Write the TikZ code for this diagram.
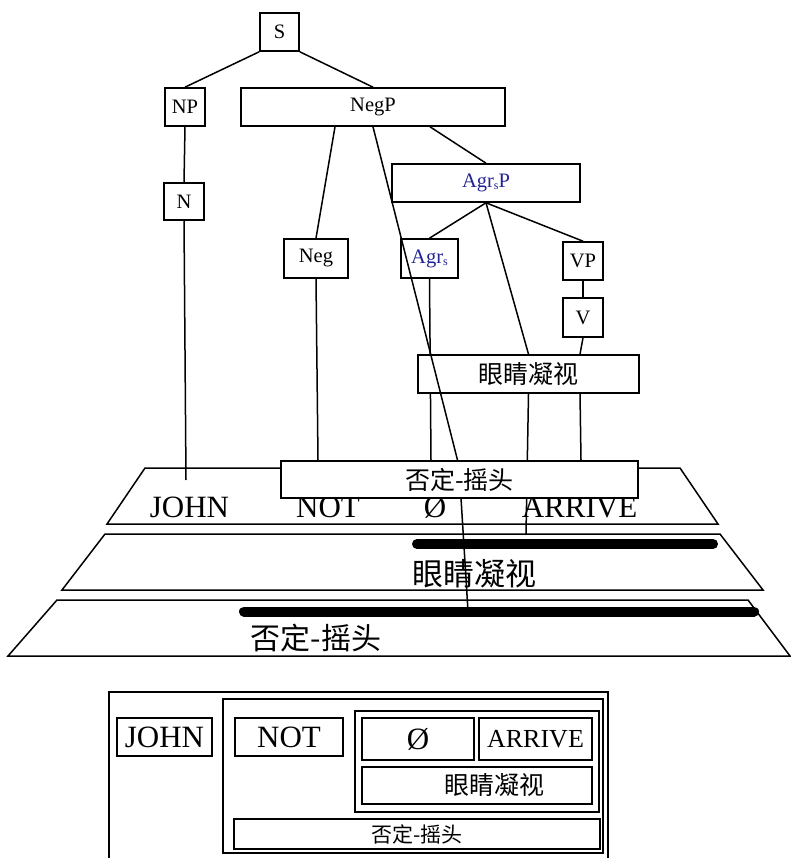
\documentclass[tikz,border=0pt]{standalone}
\usepackage{fontspec}
\setmainfont{Liberation Serif}
\newfontfamily\cjk{Noto Sans CJK SC}
\usetikzlibrary{calc}
\definecolor{agrblue}{RGB}{35,35,150}
\pgfdeclarelayer{back}
\pgfdeclarelayer{front}
\pgfsetlayers{back,main,front}
\begin{document}
\begin{tikzpicture}[x=1pt,y=-1pt,
  tbox/.style={draw, fill=white, line width=1.6pt, inner sep=0pt, font=\fontsize{20.5}{20.5}\selectfont},
  conn/.style={line width=1.5pt},
  layerpath/.style={line width=1.5pt},
  thickbar/.style={line width=10pt, line cap=round},
  big/.style={font=\fontsize{31}{31}\selectfont, inner sep=0pt},
  bbox/.style={draw, line width=1.7pt, inner sep=0pt}]
\useasboundingbox (0,0) rectangle (790,858);

% ---------- tree nodes ----------
\node[tbox, minimum width=39pt, minimum height=38pt] (S) at (279.5,32) {S};
\node[tbox, minimum width=40pt, minimum height=38pt] (NP) at (185,107) {NP};
\node[tbox, minimum width=264pt, minimum height=38pt] (NegP) at (373,107) {NegP};
\node[tbox, minimum width=40pt, minimum height=37pt] (N) at (184,201.5) {N};
\node[tbox, minimum width=188pt, minimum height=38pt, text=agrblue] (AgrsP) at (486,183) {Agr\raisebox{-2pt}{\fontsize{12}{12}\selectfont s}P};
\node[tbox, minimum width=64pt, minimum height=39pt] (Neg) at (316,258.5) {Neg};
\node[tbox, minimum width=57pt, minimum height=39pt, text=agrblue] (Agrs) at (429.5,258.5) {Agr\raisebox{-2pt}{\fontsize{12}{12}\selectfont s}};
\node[tbox, minimum width=40pt, minimum height=38pt] (VP) at (583,261) {VP};
\node[tbox, minimum width=40pt, minimum height=39pt] (V) at (583,317.5) {V};
\node[tbox, minimum width=221pt, minimum height=38pt, font=\cjk\fontsize{25}{25}\selectfont] (Eye) at (528.5,374) {眼睛凝视};
\begin{pgfonlayer}{front}
\node[tbox, minimum width=357pt, minimum height=37pt, font=\cjk\fontsize{25}{25}\selectfont] (NS) at (459.5,479.5) {否定-摇头};
\end{pgfonlayer}

\coordinate (johnend) at (186,480);
\coordinate (l2hit) at (526,534);
\coordinate (bend) at (459,466);
\coordinate (l3hit) at (468,611);

% ---------- layers ----------
\begin{pgfonlayer}{back}
\draw[layerpath] (145,468) -- (680,468) -- (718,524) -- (107,524) -- cycle;
\draw[layerpath] (105,534) -- (720,534) -- (763,590) -- (62,590) -- cycle;
\draw[layerpath] (57,600) -- (748,600) -- (790,656) -- (8,656) -- cycle;
\node[big, anchor=base] (tJ) at (189.5,517) {JOHN};
\node[big, anchor=base] (tN) at (328,517) {NOT};
\node[big, anchor=base] (tO) at (435,517) {Ø};
\node[big, anchor=base] (tA) at (579.5,517) {ARRIVE};
\node[inner sep=0pt, font=\cjk\fontsize{31}{31}\selectfont] (tE) at (474.5,573.5) {眼睛凝视};
\node[inner sep=0pt, font=\cjk\fontsize{30}{30}\selectfont] (tS) at (316,638.5) {否定-摇头};
\draw[thickbar] (417,544) -- (713,544);
\draw[thickbar] (244,611.5) -- (754,611.5);

% ---------- connectors ----------
\draw[conn] (S.south west) -- (NP.north);
\draw[conn] (S.south east) -- (NegP.north);
\draw[conn] (NP.south) -- (N.north);
\draw[conn] (N.south) -- (johnend);
\draw[conn] ([xshift=-38pt]NegP.south) -- (Neg.north);
\draw[conn] ([xshift=57pt]NegP.south) -- (AgrsP.north);
\draw[conn] (Neg.south) -- ([xshift=-141.5pt]NS.north);
\draw[conn] (AgrsP.south) -- (Agrs.north);
\draw[conn] (AgrsP.south) -- (VP.north);
\draw[conn] (AgrsP.south) -- (Eye.north);
\draw[conn] (Agrs.south) -- ([xshift=-28.5pt]NS.north);
\draw[conn] (VP.south) -- (V.north);
\draw[conn] (V.south) -- ([xshift=51.5pt]Eye.north);
\draw[conn] ([xshift=51.5pt]Eye.south) -- ([xshift=121.5pt]NS.north);
\draw[conn] (Eye.south) -- (l2hit);
\end{pgfonlayer}

\draw[conn] (NegP.south) -- (bend) -- (l3hit);

% ---------- bottom box diagram ----------
\draw[line width=1.7pt] (109,860) -- (109,692) -- (608,692) -- (608,860);
\node[bbox, minimum width=380pt, minimum height=154pt] (C2) at (413,776) {};
\node[bbox, minimum width=244pt, minimum height=101pt] (C3) at (477,761.5) {};
\node[bbox, minimum width=95pt, minimum height=38pt, font=\fontsize{31}{31}\selectfont] (bJ) at (164.5,737) {JOHN};
\node[bbox, minimum width=108pt, minimum height=38pt, font=\fontsize{31}{31}\selectfont] (bN) at (289,737) {NOT};
\node[bbox, minimum width=112pt, minimum height=42pt, font=\fontsize{31}{31}\selectfont] (bO) at (418,739) {Ø};
\node[bbox, minimum width=113pt, minimum height=42pt, font=\fontsize{26}{26}\selectfont] (bA) at (535.5,739) {ARRIVE};
\node[bbox, minimum width=230pt, minimum height=37pt, font=\cjk\fontsize{25}{25}\selectfont] (bE) at (477,785.5) {\hspace*{34pt}眼睛凝视};
\node[bbox, minimum width=366pt, minimum height=30pt, font=\cjk\fontsize{21}{21}\selectfont] (bNS) at (417,834) {否定-摇头};
\end{tikzpicture}
\end{document}
